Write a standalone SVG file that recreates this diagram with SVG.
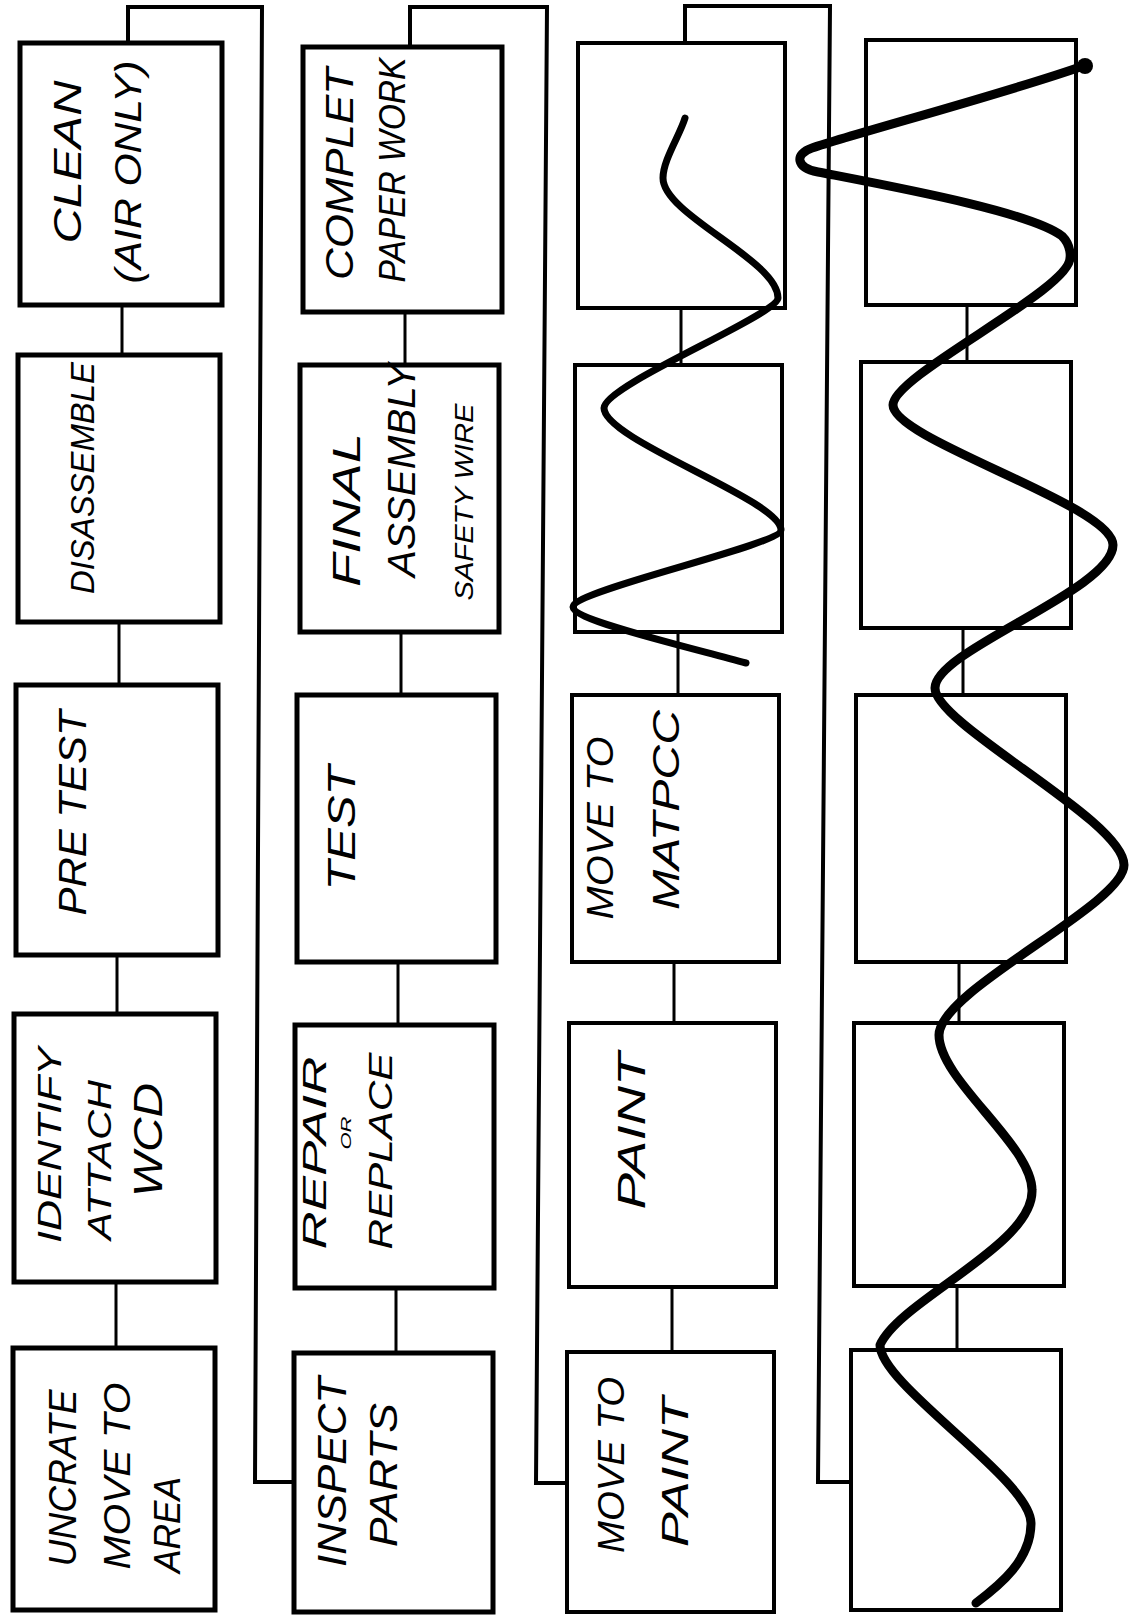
<svg xmlns="http://www.w3.org/2000/svg" width="1131" height="1618" viewBox="0 0 1131 1618">
<style>
.bx{fill:none;stroke:#000;stroke-width:5;stroke-linejoin:miter}
.bx2{fill:none;stroke:#000;stroke-width:4}
.cn{fill:none;stroke:#000;stroke-width:3}
.lp{fill:none;stroke:#000;stroke-width:4;stroke-linejoin:miter}
.t{font-family:"Liberation Sans",Arial,sans-serif;font-style:italic;fill:#000;text-anchor:middle;dominant-baseline:central}
.wv{fill:none;stroke:#000;stroke-linecap:round;stroke-linejoin:round}
</style>
<rect x="0" y="0" width="1131" height="1618" fill="#fff"/>
<g id="connectors">
<path class="lp" d="M128 43 V7 H262 L255 1482 H295"/>
<path class="lp" d="M410 47 V7 H547 L536 1483 H567"/>
<path class="lp" d="M685 43 V6 H830 L818 1482 H851"/>
<path class="cn" d="M122 305 V355 M119 622 V685 M117 955 V1014 M116 1282 V1348"/>
<path class="cn" d="M405 312 V365 M401 632 V695 M398 962 V1025 M396 1288 V1353"/>
<path class="cn" d="M681 308 V365 M678 632 V695 M674 962 V1023 M672 1287 V1352"/>
<path class="cn" d="M967 305 V362 M963 628 V695 M959 962 V1023 M957 1286 V1350"/>
</g>
<g id="n1_1"><rect class="bx" x="20" y="43" width="202" height="262"/>
<text class="t" font-size="38" textLength="163" lengthAdjust="spacingAndGlyphs" transform="translate(68 162) rotate(-90)">CLEAN</text>
<text class="t" font-size="36" textLength="223" lengthAdjust="spacingAndGlyphs" transform="translate(128 172) rotate(-90)">(AIR ONLY)</text></g>
<g id="n1_2"><rect class="bx" x="18" y="355" width="202" height="267"/>
<text class="t" font-size="34" textLength="232" lengthAdjust="spacingAndGlyphs" transform="translate(82 478) rotate(-90)">DISASSEMBLE</text></g>
<g id="n1_3"><rect class="bx" x="16" y="685" width="202" height="270"/>
<text class="t" font-size="38" textLength="205" lengthAdjust="spacingAndGlyphs" transform="translate(73 813) rotate(-90)">PRE TEST</text></g>
<g id="n1_4"><rect class="bx" x="14" y="1014" width="202" height="268"/>
<text class="t" font-size="34" textLength="196" lengthAdjust="spacingAndGlyphs" transform="translate(49 1145) rotate(-90)">IDENTIFY</text>
<text class="t" font-size="34" textLength="160" lengthAdjust="spacingAndGlyphs" transform="translate(99 1160) rotate(-90)">ATTACH</text>
<text class="t" font-size="40" textLength="114" lengthAdjust="spacingAndGlyphs" transform="translate(148 1140) rotate(-90)">WCD</text></g>
<g id="n1_5"><rect class="bx" x="13" y="1348" width="202" height="262"/>
<text class="t" font-size="38" textLength="177" lengthAdjust="spacingAndGlyphs" transform="translate(63 1478) rotate(-90)">UNCRATE</text>
<text class="t" font-size="36" textLength="187" lengthAdjust="spacingAndGlyphs" transform="translate(117 1476) rotate(-90)">MOVE TO</text>
<text class="t" font-size="36" textLength="96" lengthAdjust="spacingAndGlyphs" transform="translate(167 1525) rotate(-90)">AREA</text></g>
<g id="n2_1"><rect class="bx" x="303" y="47" width="199" height="265"/>
<text class="t" font-size="38" textLength="212" lengthAdjust="spacingAndGlyphs" transform="translate(340 174) rotate(-90)">COMPLET</text>
<text class="t" font-size="36" textLength="225" lengthAdjust="spacingAndGlyphs" transform="translate(392 170) rotate(-90)">PAPER WORK</text></g>
<g id="n2_2"><rect class="bx" x="300" y="365" width="199" height="267"/>
<text class="t" font-size="38" textLength="154" lengthAdjust="spacingAndGlyphs" transform="translate(347 510) rotate(-90)">FINAL</text>
<text class="t" font-size="38" textLength="214" lengthAdjust="spacingAndGlyphs" transform="translate(402 470) rotate(-90)">ASSEMBLY</text>
<text class="t" font-size="26" textLength="197" lengthAdjust="spacingAndGlyphs" transform="translate(464 502) rotate(-90)">SAFETY WIRE</text></g>
<g id="n2_3"><rect class="bx" x="297" y="695" width="199" height="267"/>
<text class="t" font-size="38" textLength="125" lengthAdjust="spacingAndGlyphs" transform="translate(342 828) rotate(-90)">TEST</text></g>
<g id="n2_4"><rect class="bx" x="295" y="1025" width="199" height="263"/>
<text class="t" font-size="34" textLength="193" lengthAdjust="spacingAndGlyphs" transform="translate(314 1153) rotate(-90)">REPAIR</text>
<text class="t" font-size="14" textLength="33" lengthAdjust="spacingAndGlyphs" transform="translate(346 1133) rotate(-90)">OR</text>
<text class="t" font-size="34" textLength="197" lengthAdjust="spacingAndGlyphs" transform="translate(380 1151) rotate(-90)">REPLACE</text></g>
<g id="n2_5"><rect class="bx" x="294" y="1353" width="199" height="259"/>
<text class="t" font-size="40" textLength="190" lengthAdjust="spacingAndGlyphs" transform="translate(332 1472) rotate(-90)">INSPECT</text>
<text class="t" font-size="38" textLength="144" lengthAdjust="spacingAndGlyphs" transform="translate(384 1475) rotate(-90)">PARTS</text></g>
<g id="n3_1"><rect class="bx2" x="578" y="43" width="207" height="265"/></g>
<g id="n3_2"><rect class="bx2" x="575" y="365" width="207" height="267"/></g>
<g id="n3_3"><rect class="bx2" x="572" y="695" width="207" height="267"/>
<text class="t" font-size="36" textLength="183" lengthAdjust="spacingAndGlyphs" transform="translate(600 828) rotate(-90)">MOVE TO</text>
<text class="t" font-size="36" textLength="200" lengthAdjust="spacingAndGlyphs" transform="translate(666 810) rotate(-90)">MATPCC</text></g>
<g id="n3_4"><rect class="bx2" x="569" y="1023" width="207" height="264"/>
<text class="t" font-size="38" textLength="157" lengthAdjust="spacingAndGlyphs" transform="translate(632 1131) rotate(-90)">PAINT</text></g>
<g id="n3_5"><rect class="bx2" x="567" y="1352" width="207" height="260"/>
<text class="t" font-size="36" textLength="176" lengthAdjust="spacingAndGlyphs" transform="translate(611 1465) rotate(-90)">MOVE TO</text>
<text class="t" font-size="36" textLength="150" lengthAdjust="spacingAndGlyphs" transform="translate(675 1472) rotate(-90)">PAINT</text></g>
<g id="n4_1"><rect class="bx2" x="866" y="40" width="210" height="265"/></g>
<g id="n4_2"><rect class="bx2" x="861" y="362" width="210" height="266"/></g>
<g id="n4_3"><rect class="bx2" x="856" y="695" width="210" height="267"/></g>
<g id="n4_4"><rect class="bx2" x="854" y="1023" width="210" height="263"/></g>
<g id="n4_5"><rect class="bx2" x="851" y="1350" width="210" height="260"/></g>
<g id="waves">
<path class="wv" stroke-width="7" d="M685 118 C680 135 663 160 663 178 C663 215 778 260 778 298 C778 315 604 385 604 408 C604 440 781 500 781 530 C781 545 573 590 573 607 C573 620 680 645 746 663"/>
<path class="wv" stroke-width="9" d="M1083 66 C1010 92 860 132 812 148 C794 154 796 168 818 172 C900 188 1030 212 1062 236 C1072 246 1070 258 1070 258 C1070 290 893 375 893 405 C893 440 1113 505 1113 545 C1113 590 935 650 935 688 C935 725 1124 820 1124 865 C1124 905 939 990 939 1035 C939 1080 1032 1145 1032 1190 C1034 1245 900 1300 880 1345 C880 1385 1031 1480 1031 1523 C1031 1560 1000 1585 976 1603"/>
<circle cx="1085" cy="66" r="8" fill="#000"/>
</g>
</svg>
